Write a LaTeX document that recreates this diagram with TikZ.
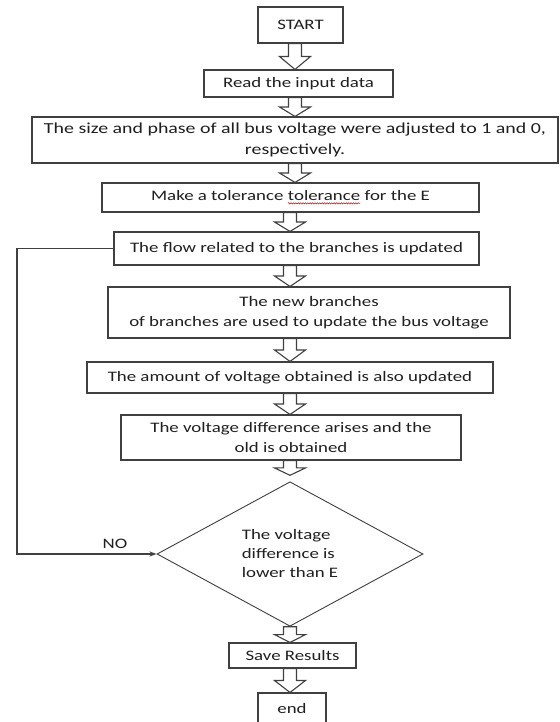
\documentclass[tikz,border=0pt]{standalone}
\usepackage{fontspec}
\setmainfont{Carlito}[FakeStretch=1.3]
\usetikzlibrary{shapes.geometric,calc,arrows.meta,decorations.pathmorphing}
\definecolor{txt}{HTML}{1F1F1F}
\definecolor{ln}{HTML}{404040}
\newcommand\spellmark[1]{\tikz[baseline=(swd.base)]{\node[inner sep=0pt,outer sep=0pt,minimum width=0pt,minimum height=0pt,draw=none,fill=none,align=left] (swd) {#1};\draw[red!85!black,line width=0.5pt,decorate,decoration={snake,amplitude=0.7pt,segment length=2.4pt}] ([yshift=-2.6pt]swd.base west) -- ([yshift=-2.6pt]swd.base east);}}
\tikzset{
  box/.style={draw=ln,line width=1.1pt,fill=white,text=txt,inner sep=2pt,align=center,
    font=\fontsize{14.5}{20}\selectfont},
  decision/.style={diamond,draw=ln,line width=0.9pt,fill=white,text=txt,inner sep=0pt,
    minimum width=266,minimum height=128,align=left,font=\fontsize{14.5}{19}\selectfont},
  lbl/.style={text=txt,font=\fontsize{14.5}{19}\selectfont,inner sep=0pt},
  barrow/.style={draw=ln,line width=1.1pt,fill=white,line join=miter,
    to path={let \p1=(\tikztostart), \p2=(\tikztotarget), \p3=($(\tikztostart)!0.5!(\tikztotarget)$) in
      (\x1-6.5pt,\y1) -- (\x1+6.5pt,\y1) -- (\x1+6.5pt,\y3) -- (\x1+15.5pt,\y3) -- (\x1,\y2)
      -- (\x1-15.5pt,\y3) -- (\x1-6.5pt,\y3) -- cycle}},
  fb/.style={draw=ln,line width=1.1pt}
}
\begin{document}
\begin{tikzpicture}[x=1pt,y=-1pt]
\useasboundingbox (0,0) rectangle (559,722);
\fill[white] (0,0) rectangle (559,722);
\coordinate (axA) at (295,0);
\coordinate (axB) at (290,0);
\coordinate (fbx) at (17,0);

\node[box,minimum width=85,minimum height=36] (start) at (300.5,25) {START};
\node[box,minimum width=189,minimum height=27] (read) at (298.5,83.5) {Read the input data};
\node[box,minimum width=526,minimum height=46,font=\fontsize{15.3}{21}\selectfont] (init) at (295,140) {The size and phase of all bus voltage were adjusted to 1 and 0,\\respectively.};
\node[box,minimum width=377,minimum height=29] (tol) at (290.5,197.5) {Make a tolerance \spellmark{tolerance} for the E};
\node[box,minimum width=365,minimum height=33] (flow) at (296.5,248.5) {The flow related to the branches is updated};
\node[box,minimum width=402,minimum height=51] (newb) at (309,312.5) {The new branches\\of branches are used to update the bus voltage};
\node[box,minimum width=406,minimum height=31] (amount) at (290,377.5) {The amount of voltage obtained is also updated};
\node[box,minimum width=340,minimum height=45] (vdiff) at (291,437.5) {The voltage difference arises and the\\old is obtained};
\node[decision] (dec) at (290,554) {The voltage\\difference is\\lower than E};
\node[box,minimum width=127,minimum height=25] (save) at (292.5,655.5) {Save Results};
\node[box,minimum width=68,minimum height=31] (end) at (292,708.5) {end};
\node[lbl] (no) at (115,544) {NO};

\draw[barrow] (start.south -| axA) to (read.north -| axA);
\draw[barrow] (read.south -| axA) to (init.north -| axA);
\draw[barrow] (init.south -| axA) to (tol.north -| axA);
\draw[barrow] (tol.south -| axB) to (flow.north -| axB);
\draw[barrow] (flow.south -| axB) to (newb.north -| axB);
\draw[barrow] (newb.south -| axB) to (amount.north -| axB);
\draw[barrow] (amount.south -| axB) to (vdiff.north -| axB);
\draw[barrow] (vdiff.south -| axB) to ([yshift=6pt]dec.north -| axB);
\draw[barrow] (dec.south -| axB) to (save.north -| axB);
\draw[barrow] (save.south -| axB) to (end.north -| axB);

\draw[fb,-{Stealth[length=7pt,width=5pt]}] (flow.west) -- (flow.west -| fbx) |- (dec.west);
\end{tikzpicture}
\end{document}
